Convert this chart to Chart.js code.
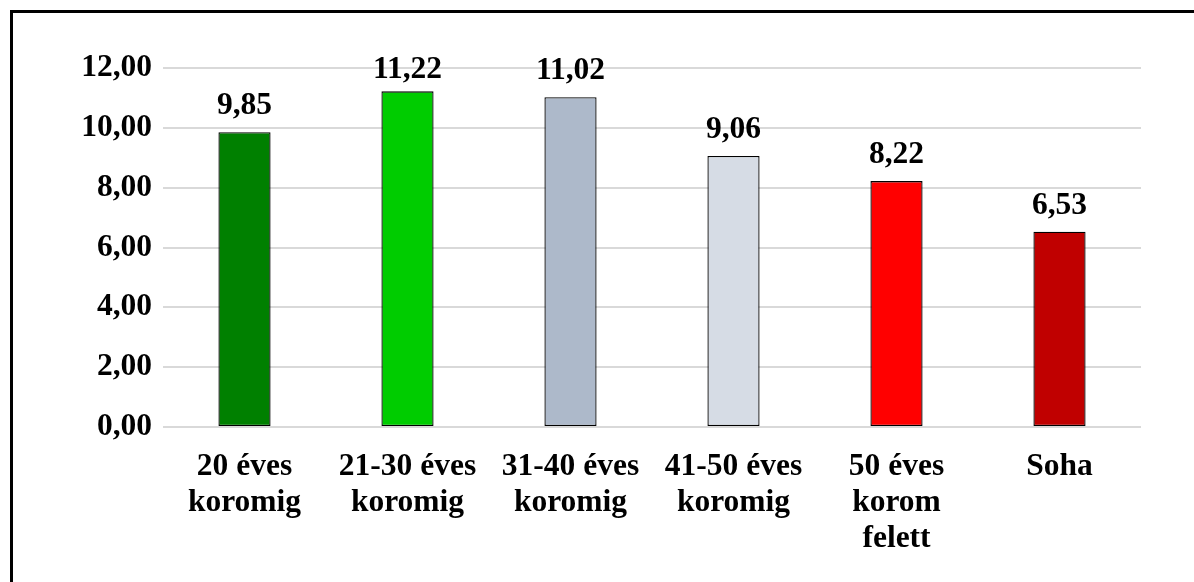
<!DOCTYPE html>
<html>
<head>
<meta charset="utf-8">
<script src="https://cdn.jsdelivr.net/npm/chart.js@4"></script>
<style>
  html, body { margin: 0; padding: 0; background: #fff; overflow: hidden; }
  #wrap { position: relative; width: 1194px; height: 582px; }
  #frame { position: absolute; left: 10px; top: 10px; width: 1200px; height: 600px; border: 3px solid #000; box-sizing: border-box; }
  canvas { position: absolute; left: 0; top: 0; }
</style>
</head>
<body>
<div id="wrap">
  <div id="frame"></div>
  <canvas id="chart" width="1194" height="582"></canvas>
</div>
<script>
// ── data ─────────────────────────────
const categories = [
  ['20 éves', 'koromig'],
  ['21-30 éves', 'koromig'],
  ['31-40 éves', 'koromig'],
  ['41-50 éves', 'koromig'],
  ['50 éves', 'korom', 'felett'],
  ['Soha'],
];
const values = [9.85, 11.22, 11.02, 9.06, 8.22, 6.53];
const barColors = ['#008000', '#00cc00', '#adb9ca', '#d6dce5', '#ff0000', '#c00000'];
const yTicks = [0, 2, 4, 6, 8, 10, 12];

const fmt = v => v.toFixed(2).replace('.', ',');
const FONT = "'Liberation Serif', 'Times New Roman', serif";
const SIZE = 31.5;

// value labels above bars (kept inside the top of the chart)
const valueLabels = {
  id: 'valueLabels',
  afterDatasetsDraw(chart) {
    const ctx = chart.ctx;
    const meta = chart.getDatasetMeta(0);
    const minY = chart.chartArea.top + 10;
    ctx.save();
    ctx.font = `bold ${SIZE}px ${FONT}`;
    ctx.fillStyle = '#000';
    ctx.textAlign = 'center';
    ctx.textBaseline = 'alphabetic';
    meta.data.forEach((bar, i) => {
      ctx.fillText(fmt(values[i]), bar.x, Math.max(bar.y - 18, minY));
    });
    ctx.restore();
  }
};

Chart.defaults.font.family = FONT;

new Chart(document.getElementById('chart').getContext('2d'), {
  type: 'bar',
  data: {
    labels: categories,
    datasets: [{
      data: values,
      backgroundColor: barColors,
      borderColor: '#000',
      borderWidth: 1.3,
      borderSkipped: false,
      categoryPercentage: 1,
      barPercentage: 0.32,
    }],
  },
  options: {
    responsive: false,
    animation: false,
    layout: { padding: { top: 68, right: 53, bottom: 0, left: 0 } },
    plugins: { legend: { display: false }, tooltip: { enabled: false } },
    scales: {
      y: {
        min: 0, max: 12,
        afterBuildTicks: s => { s.ticks = yTicks.map(v => ({ value: v })); },
        afterFit: s => { s.width = 163; },
        ticks: { callback: v => fmt(v), color: '#000', padding: 11, font: { size: SIZE, weight: 'bold', lineHeight: 1.16 } },
        grid: { color: '#d9d9d9', lineWidth: 2, drawTicks: false },
        border: { display: false },
      },
      x: {
        afterFit: s => { s.height = 155; },
        ticks: { color: '#000', padding: 22, maxRotation: 0, autoSkip: false, font: { size: SIZE, weight: 'bold', lineHeight: 1.14 } },
        grid: { display: false, drawTicks: false },
        border: { display: false },
      },
    },
  },
  plugins: [valueLabels],
});
</script>
</body>
</html>
